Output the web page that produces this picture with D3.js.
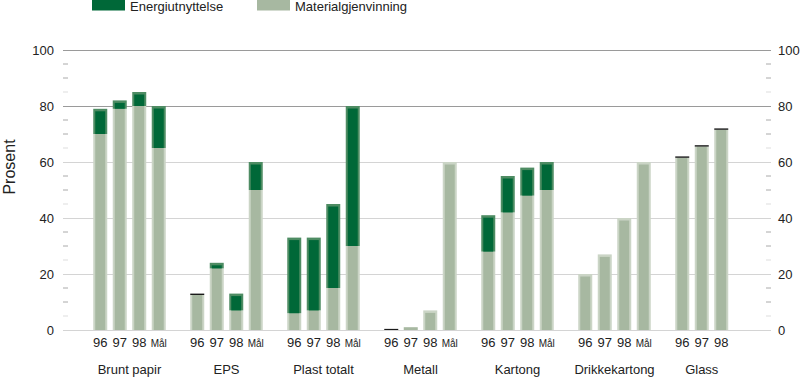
<!DOCTYPE html>
<html><head><meta charset="utf-8">
<script src="https://cdn.jsdelivr.net/npm/d3@7"></script>
<style>body{margin:0;background:#fff}svg{display:block;font-family:"Liberation Sans",Arial,Helvetica,sans-serif}</style>
</head><body>
<svg id="c" width="800" height="377"></svg>
<script>
const groups = ["Brunt papir","EPS","Plast totalt","Metall","Kartong","Drikkekartong","Glass"];
const periods = ["96","97","98","Mål"];
const seriesNames = ["Energiutnyttelse","Materialgjenvinning"];
// values per group in order of periods (null = no bar)
const material = [
  [70, 79, 80, 65],
  [12.5, 22, 7, 50],
  [6, 7, 15, 30],
  [0, 1, 7, 60],
  [28, 42, 48, 50],
  [20, 27, 40, 60],
  [61.5, 65.5, 71.5, null]
];
const energy = [
  [9, 3, 5, 15],
  [0.5, 2, 6, 10],
  [27, 26, 30, 50],
  [0.4, 0, 0, 0],
  [13, 13, 10, 10],
  [0, 0, 0, 0],
  [0.5, 0.5, 0.5, null]
];
const yTicks = [0,20,40,60,80,100];

const colors = {
  energy: {fill:"#006838", edge:"#4e8c63"},
  material: {fill:"#a7b8a1", edge:"#cbd5c6"}
};

const svg = d3.select("#c");
const left = 63, right = 771;
const y = d3.scaleLinear().domain([0,100]).range([330,50]);
const x0 = d3.scaleBand().domain(groups).range([90.5, 750.5]).paddingInner(0.196).paddingOuter(0);
const x1 = d3.scaleBand().domain(periods).range([0, x0.bandwidth()]).paddingInner(0.282).paddingOuter(0.141);

// minor ticks
const minor = d3.range(5, 100, 5).filter(v => v % 20 !== 0);
svg.append("g").selectAll("line").data(minor).join("line")
  .attr("x1", left).attr("x2", left+5).attr("y1", d=>y(d)).attr("y2", d=>y(d))
  .attr("stroke", d => (d%20===5) ? "#ddd" : "#aaa");
svg.append("g").selectAll("line").data(minor).join("line")
  .attr("x1", right-5).attr("x2", right).attr("y1", d=>y(d)).attr("y2", d=>y(d))
  .attr("stroke", d => (d%20===5) ? "#ddd" : "#aaa");
// gridlines
svg.append("g").selectAll("line").data(yTicks).join("line")
  .attr("x1", left).attr("x2", right).attr("y1", d=>Math.round(y(d))+0.5).attr("y2", d=>Math.round(y(d))+0.5)
  .attr("stroke", d => d>=80 ? "#9a9a9a" : "#d4d4d4");

// tick labels
svg.append("g").selectAll("text").data(yTicks).join("text")
  .attr("x", 54).attr("y", d=>y(d)+5).attr("text-anchor","end")
  .attr("font-size", 13).attr("fill","#222").text(d=>d);
svg.append("g").selectAll("text").data(yTicks).join("text")
  .attr("x", 778).attr("y", d=>y(d)+5).attr("text-anchor","start")
  .attr("font-size", 13).attr("fill","#222").text(d=>d);

// y title
svg.append("text").attr("transform","translate(15,167) rotate(-90)")
  .attr("text-anchor","middle").attr("font-size",16).attr("fill","#222").text("Prosent");

// bars
function seg(g, xPos, w, v0, v1, col, topInset){
  const yt = y(v1), yb = y(v0), h = yb - yt;
  if (h <= 0) return;
  if (h < 3) {
    g.append("rect").attr("x", xPos).attr("y", yt).attr("width", w).attr("height", Math.max(h,1))
      .attr("fill", col.fill === colors.energy.fill ? "#1a1a1a" : col.fill);
    return;
  }
  g.append("rect").attr("x", xPos).attr("y", yt).attr("width", w).attr("height", h).attr("fill", col.edge);
  const ti = topInset ? 2.5 : 0;
  g.append("rect").attr("x", xPos+2).attr("y", yt+ti).attr("width", w-4).attr("height", h-ti).attr("fill", col.fill);
}
const bars = svg.append("g");
groups.forEach((gname, gi) => {
  periods.forEach((p, pi) => {
    const m = material[gi][pi];
    if (m === null) return;
    const e = energy[gi][pi] || 0;
    const xp = x0(gname) + x1(p), w = x1.bandwidth();
    seg(bars, xp, w, 0, m, colors.material, e <= 0);
    if (e > 0) seg(bars, xp, w, m, m+e, colors.energy, true);
  });
});

// period labels
groups.forEach((gname, gi) => {
  periods.forEach((p, pi) => {
    if (material[gi][pi] === null) return;
    svg.append("text").attr("x", x0(gname)+x1(p)+x1.bandwidth()/2).attr("y", 347)
      .attr("text-anchor","middle").attr("font-size", p==="Mål"?10:13).attr("fill","#222").text(p);
  });
});
// group labels
svg.append("g").selectAll("text").data(groups).join("text")
  .attr("x", (d,i) => {
    const n = material[i].filter(v=>v!==null).length;
    const a = x0(d)+x1(periods[0]), b = x0(d)+x1(periods[n-1])+x1.bandwidth();
    return (a+b)/2;
  })
  .attr("y", 374).attr("text-anchor","middle").attr("font-size",13).attr("fill","#222").text(d=>d);

// legend
const leg = [{name:seriesNames[0], c:colors.energy.fill, x:92},{name:seriesNames[1], c:colors.material.fill, x:257}];
leg.forEach(l => {
  svg.append("rect").attr("x", l.x).attr("y", 0).attr("width", 33).attr("height", 10.5).attr("fill", l.c);
  svg.append("text").attr("x", l.x+38).attr("y", 11).attr("font-size",13).attr("fill","#222").text(l.name);
});
</script>
</body></html>
